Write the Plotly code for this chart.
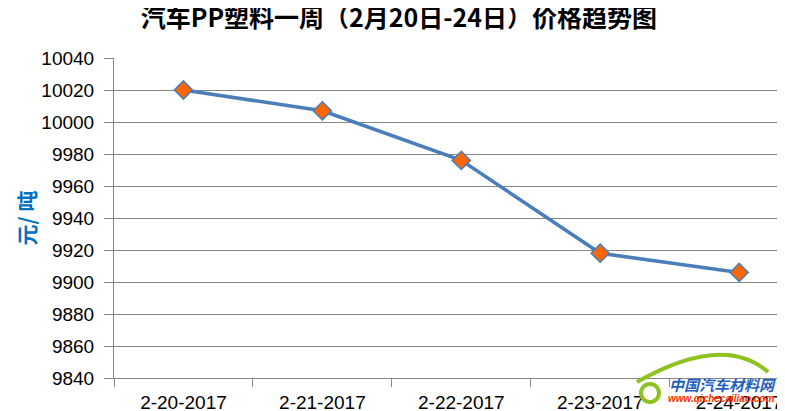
import plotly.graph_objects as go

dates = ["2-20-2017", "2-21-2017", "2-22-2017", "2-23-2017", "2-24-2017"]
prices = [10020, 10007, 9976, 9918, 9906]
y_ticks = [9840, 9860, 9880, 9900, 9920, 9940, 9960, 9980, 10000, 10020, 10040]

fig = go.Figure()
fig.add_trace(go.Scatter(
    x=dates, y=prices, mode="lines+markers",
    line=dict(color="#4A7EBB", width=3.5),
    marker=dict(symbol="diamond", size=14, color="#FF6600",
                line=dict(color="#4A7EBB", width=1.5)),
    cliponaxis=False, showlegend=False,
))

# page body has an 8px margin, so figure coords = screen coords - 8
fig.update_layout(
    width=785, height=411,
    margin=dict(l=106, r=8, t=50, b=41),
    paper_bgcolor="white", plot_bgcolor="white",
    title=dict(text="<b>汽车PP塑料一周（2月20日-24日）价格趋势图</b>",
               x=0.498, xanchor="center", y=0.975, yanchor="middle",
               font=dict(family="Noto Sans CJK SC", size=25, color="#000000")),
    font=dict(family="Liberation Sans", size=19, color="#000000"),
)
fig.update_xaxes(
    type="category", range=[-0.5, 4.33], tickson="boundaries",
    ticks="outside", ticklen=8, tickcolor="#868686",
    showline=True, linecolor="#868686", linewidth=1,
    showgrid=False, tickfont=dict(size=19), automargin=False,
    ticklabelstandoff=7,
)
fig.update_yaxes(
    range=[9840, 10040], tickvals=y_ticks,
    ticktext=[str(v) for v in y_ticks],
    ticks="outside", ticklen=9, tickcolor="#868686",
    showline=True, linecolor="#868686", linewidth=1,
    showgrid=True, gridcolor="#868686", gridwidth=1,
    zeroline=False, tickfont=dict(size=19), automargin=False,
    ticklabelstandoff=6,
    title=dict(text="<b>元/ 吨</b>", standoff=0,
               font=dict(family="Noto Sans CJK SC", size=21, color="#0070C0")),
)

# watermark logo
fig.add_shape(type="path",
              path="M 0.7794 -0.0125 Q 0.9083 0.1406 0.9747 0.01875",
              xref="paper", yref="paper", line=dict(color="#8DC21F", width=4))
fig.add_shape(type="circle", x0=0.7854, x1=0.8122, y0=-0.075, y1=-0.0188,
              xref="paper", yref="paper", line=dict(color="#8DC21F", width=4))
fig.add_annotation(text="<b><i>中国汽车材料网</i></b>", xref="paper", yref="paper",
                   x=0.9076, y=-0.01875, xanchor="center", yanchor="middle", showarrow=False,
                   font=dict(family="Noto Sans CJK SC", size=15, color="#1F5FBF"))
fig.add_annotation(text="<b><i>www.qichecailiao.com</i></b>", xref="paper", yref="paper",
                   x=0.904, y=-0.0625, xanchor="center", yanchor="middle", showarrow=False,
                   font=dict(family="Liberation Sans", size=10, color="#FF3300"))

fig.write_html("out.html")
